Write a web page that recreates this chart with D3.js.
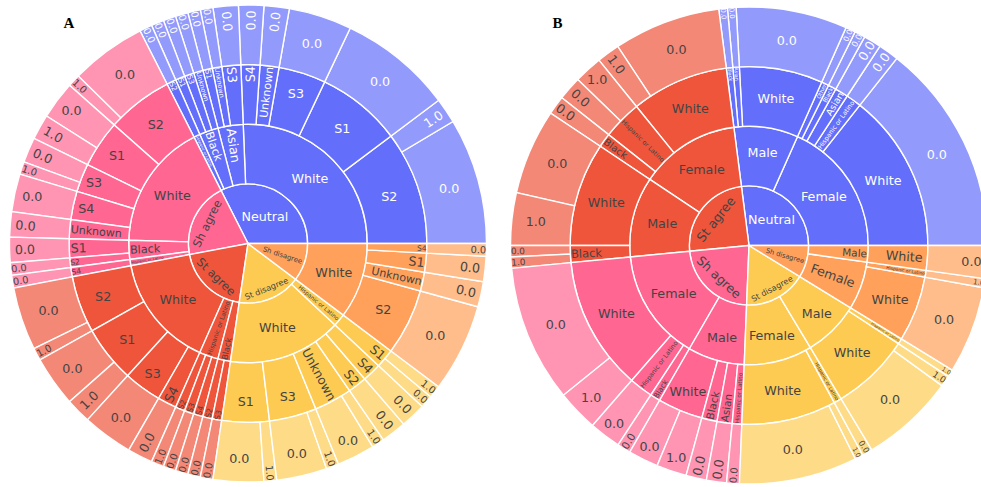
<!DOCTYPE html>
<html><head><meta charset="utf-8">
<script src="https://cdn.jsdelivr.net/npm/d3@7"></script>
<style>body{margin:0;background:#fff}</style>
</head><body>
<svg id="chart" width="981" height="487" style="background:#fff"></svg>
<script>
// ---------------- DATA ----------------
const responseColors = {"Neutral":"#636efa","St agree":"#EF553B","Sh agree":"#FF6692","Sh disagree":"#FFA15A","St disagree":"#FECB52"};

// Chart A: response / race / school / outcome  (counts)
const aNeutral = [
 ["White","S2","0.0",10],["White","S2","1.0",2],["White","S1","0.0",9],["White","S3","0.0",5],["White","Unknown","0.0",2],["White","S4","0.0",2],
 ["Asian","S3","0.0",2],["Asian","Unknown","0.0",1],["Asian","S1","0.0",1],
 ["Black","Unknown","0.0",1],["Black","S3","0.0",1],["Black","S1","0.0",1],
 ["Hispanic or Latino","S2","0.0",1]
];
const aShAgree = [
 ["White","S2","0.0",6],["White","S2","1.0",1],["White","S1","0.0",3],["White","S1","1.0",2],["White","S3","0.0",2],["White","S3","1.0",1],["White","S4","0.0",3],["White","Unknown","0.0",2],
 ["Black","S1","0.0",2],["Black","S2","0.0",1],
 ["Hispanic or Latino","S4","0.0",1]
];
const aStAgree = [
 ["White","S2","0.0",5],["White","S2","1.0",1],["White","S1","0.0",4],["White","S1","1.0",2],["White","S3","0.0",4],["White","S4","0.0",2],
 ["Hispanic or Latino","S2","1.0",1],["Hispanic or Latino","S3","0.0",1],["Hispanic or Latino","S4","0.0",1],
 ["Black","S2","0.0",1],["Black","S3","0.0",1]
];
const aStDisagree = [
 ["White","S1","0.0",4],["White","S1","1.0",1],["White","S3","0.0",4],["White","S3","1.0",1],["White","Unknown","0.0",3],["White","Unknown","1.0",1],["White","S2","0.0",2],["White","S4","0.0",2],
 ["Hispanic or Latino","S1","0.0",1],["Hispanic or Latino","S1","1.0",1]
];
const aShDisagree = [
 ["White","S2","0.0",7],["White","Unknown","0.0",2],["White","S1","0.0",2],["White","S4","0.0",1]
];

// Chart B: response / gender / race / outcome  (estimated sizes)
const bNeutral = [
 ["Female","White","0.0",51.7],["Female","Hispanic or Latino","0.0",5],["Female","Asian","0.0",4.3],["Female","Black","0.0",2.6],["Female","Other","0.0",2.4],
 ["Male","White","0.0",27.1],["Male","Asian","0.0",2.1],["Male","Black","0.0",2.1]
];
const bStAgree = [
 ["Female","White","0.0",26.1],["Female","White","1.0",5.6],["Female","Hispanic or Latino","1.0",6.9],["Female","Hispanic or Latino","0.0",5.8],["Female","Black","0.0",4.6],
 ["Male","White","0.0",20.9],["Male","White","1.0",12.8],["Male","Black","0.0",2.75],["Male","Black","1.0",2.75]
];
const bShAgree = [
 ["Female","White","0.0",33.4],["Female","White","1.0",10.1],["Female","Hispanic or Latino","0.0",7.7],["Female","Black","0.0",3.3],
 ["Male","White","0.0",7.35],["Male","White","1.0",7.35],["Male","Black","0.0",5],["Male","Asian","0.0",4.9],["Male","Hispanic or Latino","0.0",3.1]
];
const bStDisagree = [
 ["Female","White","0.0",28.8],["Female","White","1.0",2],["Female","Hispanic or Latino","0.0",2.5],
 ["Male","White","0.0",23],["Male","White","1.0",2.7],["Male","Hispanic or Latino","1.0",1.8]
];
const bShDisagree = [
 ["Female","White","0.0",21.3],["Female","Hispanic or Latino","1.0",2.2],
 ["Male","White","0.0",8]
];

const panelLabels = ["A","B"];

// ---------------- DRAWING ----------------
const R = 238.5, FS = 12.7, TEXTPAD = 3;
const FONT = "'DejaVu Sans', Verdana, sans-serif";
const svg = d3.select("#chart");

function build(groups){
  const root = {name:"root", children: groups.map(([resp, rows]) => {
    const l2 = new Map();
    rows.forEach(([a,b,c,v]) => {
      if(!l2.has(a)) l2.set(a, new Map());
      const m = l2.get(a);
      if(!m.has(b)) m.set(b, []);
      m.get(b).push({name:c, value:v});
    });
    return {name:resp, children:[...l2].map(([a,m]) => ({name:a, children:[...m].map(([b,lv]) => ({name:b, children:lv}))}))};
  })};
  const h = d3.hierarchy(root).sum(d => d.value || 0).sort((a,b) => b.value - a.value);
  d3.partition().size([1,5])(h);
  return h;
}

function calcMaxHalfSize(a, halfAngle, r, ring){
  const q = a + 1/(2*Math.tan(halfAngle));
  return r*Math.min(1/(Math.sqrt(q*q+0.5)+q), ring/(Math.sqrt(a*a+ring/2)+a));
}
function calcRCenter(a,b){ return Math.cos(b) - a*b; }
function calcRotate(t){ return (180/Math.PI*t + 720) % 180 - 90; }

function insideTransform(bb, p){
  const r = p.rpx1, ring = p.ring, half = p.half, mid = p.mid, rIns = p.rIns;
  const all = [];
  const diam = Math.hypot(bb.width, bb.height);
  const th = {scale: rIns*r*2/diam, rCenter: 1 - rIns, rotate: 0};
  if(th.scale >= 1) return th;
  all.push(th);
  const rp = Math.max(0, r - 2*TEXTPAD);
  let a = bb.width/bb.height;
  let s = calcMaxHalfSize(a, half, rp, ring);
  all.push({scale: 2*s/bb.height, rCenter: calcRCenter(a, s/rp), rotate: calcRotate(mid)});
  a = bb.height/bb.width;
  s = calcMaxHalfSize(a, half, rp, ring);
  all.push({scale: 2*s/bb.width, rCenter: calcRCenter(a, s/rp), rotate: calcRotate(mid + Math.PI/2)});
  let best = all[0], m = 0;
  all.forEach(t => { if(m < t.scale){ m = t.scale; best = t; } });
  return best;
}

function blendWhite(c, op){
  const k = d3.rgb(c);
  return d3.rgb(k.r*op + 255*(1-op), k.g*op + 255*(1-op), k.b*op + 255*(1-op)).formatHex();
}
function textColor(c){
  const k = d3.rgb(c);
  return (k.r*299 + k.g*587 + k.b*114)/1000 < 128 ? "#ffffff" : "#444444";
}

function drawSunburst(groups, cx, cy){
  const root = build(groups);
  const angle = d3.scaleLinear().domain([0,1]).range([Math.PI/2, Math.PI/2 - 2*Math.PI]);
  const radius = d3.scaleLinear().domain([1,5]).range([0, R]);
  const arc = d3.arc();
  const nodes = root.descendants().filter(d => d.depth > 0);
  const g = svg.append("g").attr("transform", `translate(${cx},${cy})`);
  const gp = g.append("g"), gt = g.append("g");
  nodes.forEach(d => {
    const base = d.ancestors().find(a => a.depth === 1).data.name;
    const col = responseColors[base];
    const fill = d.children ? col : blendWhite(col, 0.7);
    gp.append("path")
      .attr("d", arc({innerRadius: radius(d.y0), outerRadius: radius(d.y1), startAngle: angle(d.x1), endAngle: angle(d.x0)}))
      .attr("fill", fill).attr("stroke", "#fff").attr("stroke-width", 1.4);
    const rpx0 = radius(d.y0), rpx1 = radius(d.y1);
    const span = (d.x1 - d.x0)*2*Math.PI;
    const half = 0.5*Math.min(span, Math.PI);
    const ring = 1 - rpx0/rpx1;
    const mid = angle((d.x0 + d.x1)/2);
    const full = rpx0 === 0 && span >= 2*Math.PI - 1e-9;
    const rIns = full ? 1 : Math.max(0, Math.min(1/(1 + 1/Math.sin(half)), ring/2));
    const t = gt.append("text").text(d.data.name)
      .attr("font-family", FONT).attr("font-size", FS).attr("fill", textColor(col));
    const bb = t.node().getBBox();
    const tr = insideTransform(bb, {rpx1, ring, half, mid, rIns});
    const sc = Math.min(1, Math.max(0, tr.scale));
    const rr = rpx1*tr.rCenter;
    const tx = rr*Math.sin(mid), ty = -rr*Math.cos(mid);
    const mx = bb.x + bb.width/2, my = bb.y + bb.height/2;
    t.attr("transform", `translate(${tx},${ty}) rotate(${tr.rotate}) scale(${sc}) translate(${-mx},${-my})`);
  });
}

drawSunburst([["Neutral",aNeutral],["Sh agree",aShAgree],["St agree",aStAgree],["St disagree",aStDisagree],["Sh disagree",aShDisagree]], 248, 243.5);
drawSunburst([["Neutral",bNeutral],["St agree",bStAgree],["Sh agree",bShAgree],["St disagree",bStDisagree],["Sh disagree",bShDisagree]], 749, 245.5);

svg.selectAll("text.panel").data(panelLabels).enter().append("text").attr("class","panel")
  .attr("x", (d,i) => i ? 557.5 : 69).attr("y", 27.5)
  .attr("text-anchor","middle").attr("font-family","'Liberation Serif', 'Times New Roman', serif")
  .attr("font-weight","bold").attr("font-size", 15).attr("fill","#000").text(d => d);
</script>
</body></html>
